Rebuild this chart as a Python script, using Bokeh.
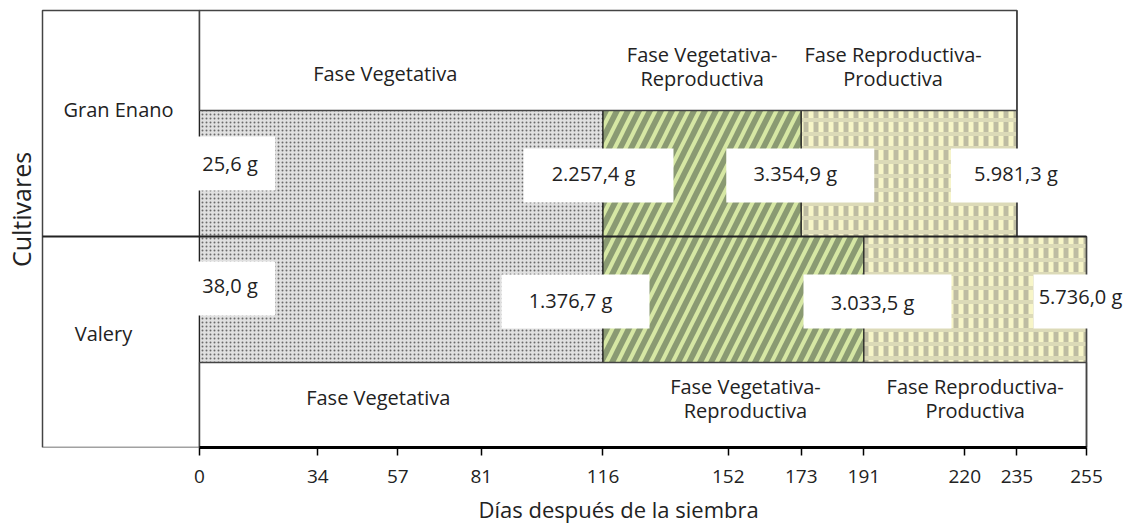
import math
from bokeh.plotting import figure
from bokeh.models import Range1d, FixedTicker, ColumnDataSource, Title
from bokeh.core.properties import value
from bokeh.embed import file_html
from bokeh.resources import INLINE

# ---------------- data ----------------
tick_days = [0, 34, 57, 81, 116, 152, 173, 191, 220, 235, 255]
cultivars = ["Gran Enano", "Valery"]
gran_enano_bounds = [0, 116, 173, 235]
valery_bounds = [0, 116, 191, 255]
gran_enano_weight = [25.6, 2257.4, 3354.9, 5981.3]
valery_weight = [38.0, 1376.7, 3033.5, 5736.0]
phases = ["Fase Vegetativa", "Fase Vegetativa-\nReproductiva", "Fase Reproductiva-\nProductiva"]
x_title = "Días después de la siembra"
y_title = "Cultivares"

# ---------------- layout ----------------
FONT = "Open Sans"
TXT = "#222222"
W, H = 1126, 529
PX = 887 / 255.0          # pixels per day
ORG = 199                 # pixel of day 0
X0 = -ORG / PX
X1 = (W - ORG) / PX
LEFT_BOX = (42 - ORG) / PX

def ypg(page_y):          # page y -> data y
    return 447 - page_y

def dx(px):
    return px / PX

def fmt(v):
    s = f"{v:,.1f}"
    return s.replace(",", "_").replace(".", ",").replace("_", ".") + " g"

p = figure(width=W, height=H, output_backend="svg", toolbar_location=None,
           x_range=Range1d(X0, X1), y_range=Range1d(0, 447),
           y_axis_location=None, min_border_left=0, min_border_right=0,
           min_border_top=0, min_border_bottom=H - 447)
p.outline_line_color = None
p.grid.visible = False
p.background_fill_color = "white"
p.border_fill_color = "white"

TOP_BOX = (ypg(110), ypg(10))
GE_BAR = (ypg(236), ypg(110))
VA_BAR = (ypg(362), ypg(236))
BOT_BOX = (ypg(447), ypg(362))

# outer left box
p.quad(left=[LEFT_BOX], right=[0], bottom=[0], top=[ypg(10)],
       fill_color="white", line_color="#444444", line_width=1.5)

def bars(bounds, band):
    lefts = bounds[:-1]
    rights = bounds[1:]
    b, t = band
    p.quad(left=[lefts[0]], right=[rights[0]], bottom=[b], top=[t],
           fill_color="#e0e0e0", hatch_pattern="dot", hatch_color="#6a6a6a",
           hatch_scale=4, hatch_weight=2.2, line_color="#222222", line_width=1.2)
    p.quad(left=[lefts[1]], right=[rights[1]], bottom=[b], top=[t],
           fill_color="#8a9a72", hatch_pattern="right_diagonal_line", hatch_color="#d6e7a4",
           hatch_scale=22, hatch_weight=4, line_color="#222222", line_width=1.2)
    p.quad(left=[lefts[2]], right=[rights[2]], bottom=[b], top=[t],
           fill_color="#f7f5c8", hatch_pattern="vertical_line", hatch_color="#bebca2",
           hatch_scale=10, hatch_weight=5, line_color=None)
    p.quad(left=[lefts[2]], right=[rights[2]], bottom=[b], top=[t],
           fill_alpha=0, hatch_pattern="horizontal_line", hatch_color="#dcdab8",
           hatch_scale=14, hatch_weight=4, line_color="#222222", line_width=1.2)

bars(gran_enano_bounds, GE_BAR)
bars(valery_bounds, VA_BAR)

# phase boxes
p.quad(left=[0], right=[gran_enano_bounds[-1]], bottom=[TOP_BOX[0]], top=[TOP_BOX[1]],
       fill_color="white", line_color="#444444", line_width=1.5)
p.quad(left=[0], right=[valery_bounds[-1]], bottom=[BOT_BOX[0]], top=[BOT_BOX[1]],
       fill_color="white", line_color="#444444", line_width=1.5)
p.line(x=[gran_enano_bounds[-1], gran_enano_bounds[-1]], y=[GE_BAR[0], TOP_BOX[1]],
       line_color="#444444", line_width=1.5)
p.line(x=[valery_bounds[-1], valery_bounds[-1]], y=[BOT_BOX[0], VA_BAR[1]],
       line_color="#444444", line_width=1.5)
p.line(x=[LEFT_BOX, max(gran_enano_bounds[-1], valery_bounds[-1])], y=[GE_BAR[0], GE_BAR[0]],
       line_color="#222222", line_width=2)

# phase labels
def mids(bounds):
    return [(a + b) / 2 for a, b in zip(bounds[:-1], bounds[1:])]

top_dx = [-16, 0, -16]
top_y = [73, 66, 66]
bot_dx = [-23, 12, 0]
bot_y = [397, 398, 398]
for bnds, offs, ys in ((gran_enano_bounds, top_dx, top_y), (valery_bounds, bot_dx, bot_y)):
    p.text(x=[m + dx(o) for m, o in zip(mids(bnds), offs)],
           y=[ypg(v) for v in ys], text=phases,
           text_font=value(FONT), text_font_size="20px", text_color=TXT,
           text_align="center", text_baseline="middle", text_line_height=0.9)

# cultivar names
p.text(x=[dx(118 - ORG), dx(103 - ORG)], y=[ypg(109), ypg(333)], text=cultivars,
       text_font=value(FONT), text_font_size="20px", text_color=TXT,
       text_align="center", text_baseline="middle")

# y title
p.text(x=[dx(20 - ORG)], y=[ypg(209)], text=[y_title], angle=math.pi / 2,
       text_font=value(FONT), text_font_size="25px", text_color=TXT,
       text_align="center", text_baseline="middle")

# weight labels
def weight_labels(bounds, weights, tdx, ty, by, widths):
    tx = [b + dx(o) for b, o in zip(bounds, tdx)]
    src = ColumnDataSource(dict(
        tx=tx, ty=[ypg(v) for v in ty],
        bx=[t + dx(5) for t in tx], by=[ypg(v) for v in by],
        w=widths, txt=[fmt(v) for v in weights]))
    p.rect(x="bx", y="by", width="w", height=54, width_units="screen", height_units="screen",
           source=src, fill_color="white", line_color=None)
    p.text(x="tx", y="ty", text="txt", source=src,
           text_font=value(FONT), text_font_size="20px", text_color=TXT,
           text_align="center", text_baseline="middle")

weight_labels(gran_enano_bounds, gran_enano_weight,
              [30.5, -9.5, -6, -1], [163, 173, 173, 173], [163, 175, 175, 175],
              [80, 150, 148, 140])
weight_labels(valery_bounds, valery_weight,
              [30.5, -32.5, 8.6, -6], [285, 300, 302, 296], [288, 301, 301, 301],
              [80, 148, 148, 104])

# x axis
ax = p.xaxis[0]
ax.ticker = FixedTicker(ticks=tick_days)
ax.bounds = (0, 255)
ax.axis_line_width = 3
ax.axis_line_color = "black"
ax.major_tick_line_color = "black"
ax.major_tick_line_width = 1.5
ax.major_tick_out = 8
ax.major_tick_in = 0
ax.minor_tick_line_color = None
ax.major_label_text_font = FONT
ax.major_label_text_font_size = "19px"
ax.major_label_text_color = TXT
ax.major_label_standoff = 14

# x title placed below the axis, offset so it sits where the reference has it
p.add_layout(Title(text=x_title, align="left", offset=478, standoff=12,
                   text_font=FONT, text_font_size="22px", text_color=TXT,
                   text_font_style="normal"), "below")

open("out.html", "w").write(file_html(p, INLINE))
